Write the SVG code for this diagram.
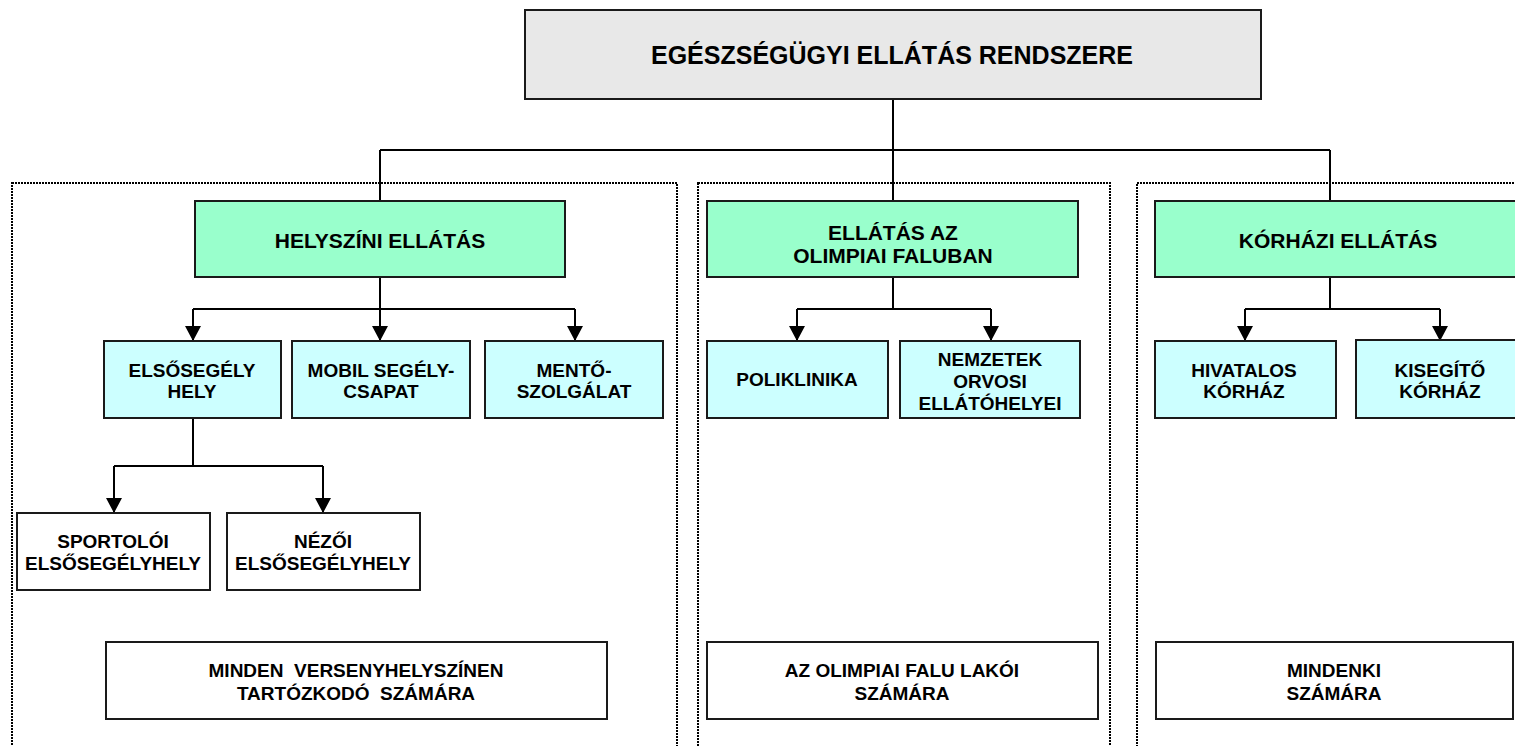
<svg xmlns="http://www.w3.org/2000/svg" width="1515" height="746" viewBox="0 0 1515 746">
<style>
text{font-family:"Liberation Sans",Arial,sans-serif;font-weight:bold;fill:#000;text-anchor:middle}
.t{font-size:25px}
.g{font-size:21px}
.c{font-size:19px}
.box{stroke:#1a1a1a;stroke-width:2}
.top{fill:#e8e8e8}
.green{fill:#99ffcc}
.cyan{fill:#ccffff}
.white{fill:#ffffff}
.zone{fill:none;stroke:#000;stroke-width:2;stroke-dasharray:2 1}
.ln{fill:none;stroke:#000;stroke-width:2}
.arr{fill:none;stroke:#000;stroke-width:2;marker-end:url(#ah)}
</style>
<defs>
<marker id="ah" viewBox="0 0 15 16" refX="15" refY="8" markerWidth="15" markerHeight="16" markerUnits="userSpaceOnUse" orient="auto">
<path d="M0,0 L15,8 L0,16 z" fill="#000"/>
</marker>
</defs>
<rect width="1515" height="746" fill="#fff"/>
<g id="zones">
<rect class="zone" x="12" y="183" width="665" height="600"/>
<rect class="zone" x="698" y="183" width="412" height="600"/>
<rect class="zone" x="1137" y="183" width="420" height="600"/>
</g>
<g id="connectors">
<path class="ln" d="M893,100 V150 M380,150 H1330 M380,150 V201 M893,150 V201 M1330,150 V201"/>
<path class="ln" d="M380,277 V309 M193,309 H575"/>
<path class="arr" d="M193,309 V341"/>
<path class="arr" d="M380,309 V341"/>
<path class="arr" d="M575,309 V341"/>
<path class="ln" d="M893,277 V309 M797,309 H991"/>
<path class="arr" d="M797,309 V341"/>
<path class="arr" d="M991,309 V341"/>
<path class="ln" d="M1330,277 V309 M1245,309 H1440"/>
<path class="arr" d="M1245,309 V341"/>
<path class="arr" d="M1440,309 V341"/>
<path class="ln" d="M193,418 V466 M114,466 H323"/>
<path class="arr" d="M114,466 V513"/>
<path class="arr" d="M323,466 V513"/>
</g>
<g id="root">
<rect class="box top" x="525" y="10" width="736" height="89"/>
<text class="t" x="892" y="64">EGÉSZSÉGÜGYI ELLÁTÁS RENDSZERE</text>
</g>
<g id="helyszini">
<rect class="box green" x="195" y="201" width="370" height="76"/>
<text class="g" x="380" y="248">HELYSZÍNI ELLÁTÁS</text>
</g>
<g id="olimpiai">
<rect class="box green" x="707" y="201" width="371" height="76"/>
<text class="g" x="893" y="240">ELLÁTÁS AZ</text>
<text class="g" x="893" y="263">OLIMPIAI FALUBAN</text>
</g>
<g id="korhazi">
<rect class="box green" x="1155" y="201" width="370" height="76"/>
<text class="g" x="1338" y="248">KÓRHÁZI ELLÁTÁS</text>
</g>
<g id="elsosegely">
<rect class="box cyan" x="104" y="341" width="177" height="77"/>
<text class="c" x="192" y="377">ELSŐSEGÉLY</text>
<text class="c" x="192" y="398">HELY</text>
</g>
<g id="mobil">
<rect class="box cyan" x="292" y="341" width="178" height="77"/>
<text class="c" x="381" y="377">MOBIL SEGÉLY-</text>
<text class="c" x="381" y="398">CSAPAT</text>
</g>
<g id="mento">
<rect class="box cyan" x="485" y="341" width="178" height="77"/>
<text class="c" x="574" y="377">MENTŐ-</text>
<text class="c" x="574" y="398">SZOLGÁLAT</text>
</g>
<g id="poliklinika">
<rect class="box cyan" x="707" y="341" width="181" height="77"/>
<text class="c" x="797" y="386">POLIKLINIKA</text>
</g>
<g id="nemzetek">
<rect class="box cyan" x="900" y="341" width="180" height="77"/>
<text class="c" x="990" y="366">NEMZETEK</text>
<text class="c" x="990" y="388">ORVOSI</text>
<text class="c" x="990" y="410">ELLÁTÓHELYEI</text>
</g>
<g id="hivatalos">
<rect class="box cyan" x="1155" y="341" width="181" height="77"/>
<text class="c" x="1244" y="377">HIVATALOS</text>
<text class="c" x="1244" y="398">KÓRHÁZ</text>
</g>
<g id="kisegito">
<rect class="box cyan" x="1356" y="340" width="170" height="78"/>
<text class="c" x="1440" y="377">KISEGÍTŐ</text>
<text class="c" x="1440" y="398">KÓRHÁZ</text>
</g>
<g id="sportoloi">
<rect class="box white" x="17" y="513" width="193" height="77"/>
<text class="c" x="113" y="548">SPORTOLÓI</text>
<text class="c" x="113" y="570">ELSŐSEGÉLYHELY</text>
</g>
<g id="nezoi">
<rect class="box white" x="227" y="513" width="193" height="77"/>
<text class="c" x="323" y="548">NÉZŐI</text>
<text class="c" x="323" y="570">ELSŐSEGÉLYHELY</text>
</g>
<g id="minden">
<rect class="box white" x="106" y="642" width="501" height="77"/>
<text class="c" x="356" y="677" xml:space="preserve">MINDEN  VERSENYHELYSZÍNEN</text>
<text class="c" x="356" y="700" xml:space="preserve">TARTÓZKODÓ  SZÁMÁRA</text>
</g>
<g id="olimpiai-lakoi">
<rect class="box white" x="707" y="642" width="391" height="77"/>
<text class="c" x="902" y="677">AZ OLIMPIAI FALU LAKÓI</text>
<text class="c" x="902" y="700">SZÁMÁRA</text>
</g>
<g id="mindenki">
<rect class="box white" x="1156" y="642" width="357" height="77"/>
<text class="c" x="1334" y="677">MINDENKI</text>
<text class="c" x="1334" y="700">SZÁMÁRA</text>
</g>
</svg>
